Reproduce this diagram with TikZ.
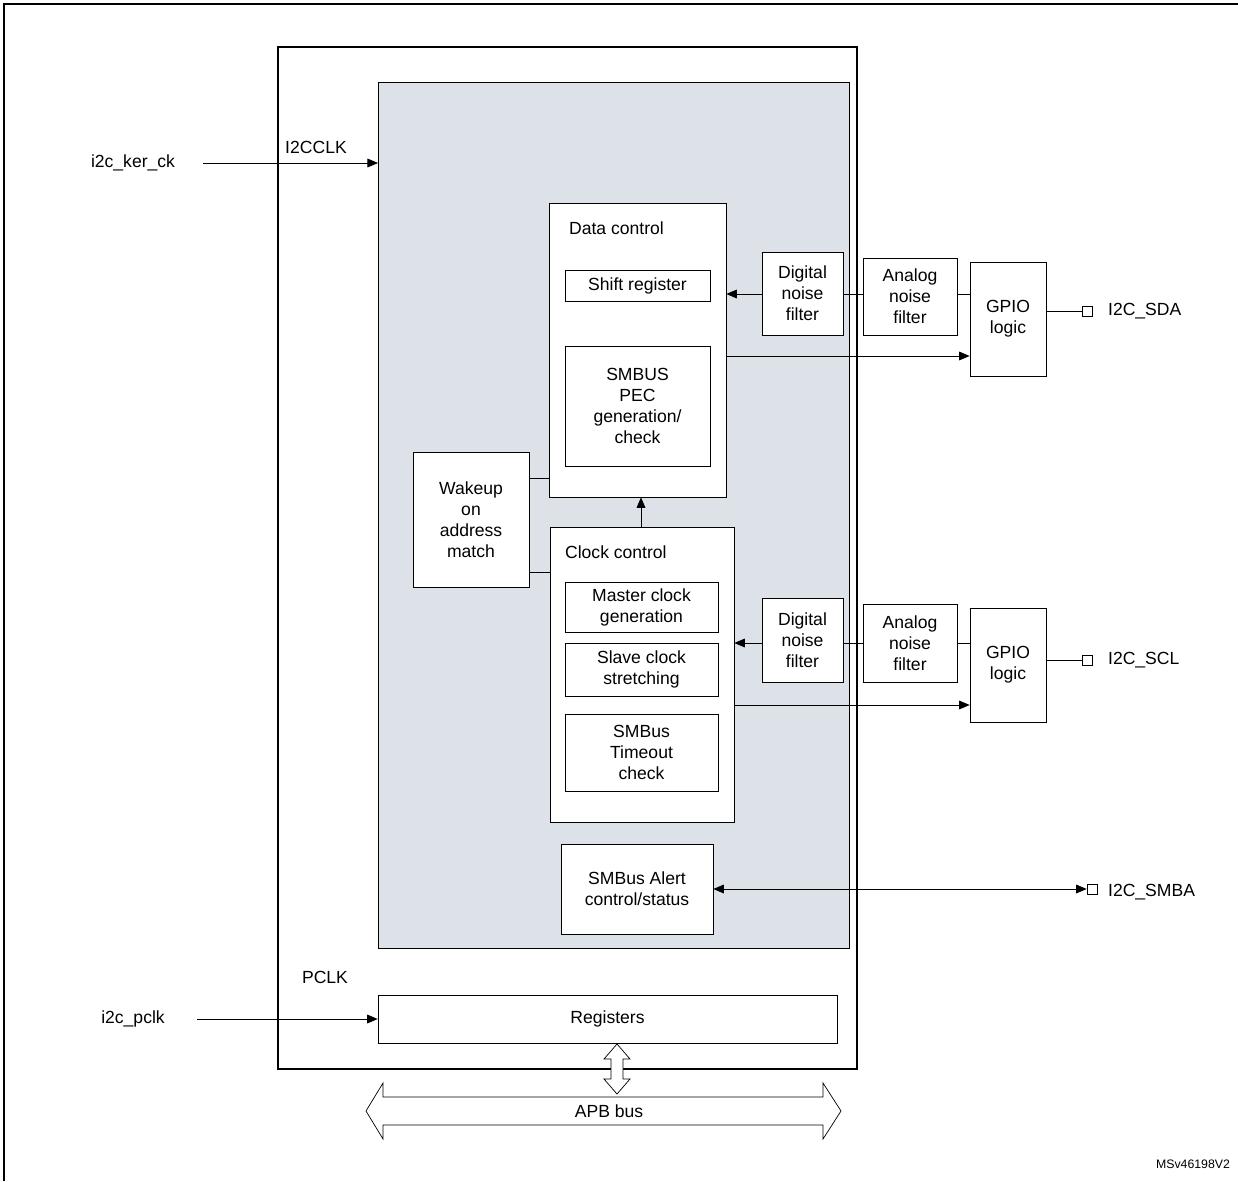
\documentclass[tikz,border=0pt]{standalone}
\usepackage{fontspec}
\setmainfont{Liberation Sans}
\usetikzlibrary{arrows.meta}
\begin{document}
\begin{tikzpicture}[x=0.02cm,y=-0.02cm,
    font=\fontsize{10}{12}\selectfont,
    blk/.style={draw, thin, fill=white, align=center, inner sep=0pt},
    pin/.style={draw, thin, fill=white, minimum size=0.2cm, inner sep=0pt},
    sig/.style={-{Triangle[length=6pt,width=5pt]}, thin},
    lbl/.style={inner sep=1pt}]
        \useasboundingbox (0,0) rectangle (1238,1181);
        \draw[line width=1pt] (4,1181) -- (4,4) -- (1238,4);
        \draw[line width=1.3pt] (278,47) rectangle (857,1069);
        \draw[thin, fill={rgb,255:red,221;green,225;blue,232}] (378,82) rectangle (849,948);

        \node[blk, minimum width=3.54cm, minimum height=5.88cm] (datactl) at (637.5,350) {};
        \node[lbl, anchor=west] (datatitle) at (567,228) {Data control};
        \node[blk, minimum width=2.9cm, minimum height=0.62cm] (shift) at (637.5,285.5) {Shift register};
        \node[blk, minimum width=2.9cm, minimum height=2.4cm] (pec) at (637.5,406) {SMBUS\\PEC\\generation/\\check};
        \node[blk, minimum width=1.62cm, minimum height=1.66cm] (dig1) at (802.5,293.5) {Digital\\noise\\filter};
        \node[blk, minimum width=1.88cm, minimum height=1.54cm] (ana1) at (910,296.5) {Analog\\noise\\filter};
        \node[blk, minimum width=1.52cm, minimum height=2.28cm] (gpio1) at (1008,319) {GPIO\\logic};
        \node[pin] (sda) at (1087,311) {};
        \node[lbl, anchor=west] (sdalbl) at (1106,311) {I2C\_SDA};

        \node[blk, minimum width=2.32cm, minimum height=2.7cm] (wakeup) at (471,519.5) {Wakeup\\on\\address\\match};

        \node[blk, minimum width=3.68cm, minimum height=5.9cm] (clkctl) at (642,674.5) {};
        \node[lbl, anchor=west] (clktitle) at (563,552) {Clock control};
        \node[blk, minimum width=3.06cm, minimum height=1.0cm] (master) at (641.5,607) {Master clock\\generation};
        \node[blk, minimum width=3.06cm, minimum height=1.06cm] (slave) at (641.5,669.5) {Slave clock\\stretching};
        \node[blk, minimum width=3.06cm, minimum height=1.54cm] (timeout) at (641.5,752.5) {SMBus\\Timeout\\check};
        \node[blk, minimum width=1.62cm, minimum height=1.68cm] (dig2) at (802.5,640) {Digital\\noise\\filter};
        \node[blk, minimum width=1.88cm, minimum height=1.56cm] (ana2) at (910,643) {Analog\\noise\\filter};
        \node[blk, minimum width=1.52cm, minimum height=2.28cm] (gpio2) at (1008,665) {GPIO\\logic};
        \node[pin] (scl) at (1087,660) {};
        \node[lbl, anchor=west] (scllbl) at (1106,660) {I2C\_SCL};

        \node[blk, minimum width=3.04cm, minimum height=1.8cm] (alert) at (637,889) {SMBus Alert\\control/status};
        \node[pin] (smba) at (1092,889) {};
        \node[lbl, anchor=west] (smbalbl) at (1106,892) {I2C\_SMBA};

        \node[blk, minimum width=9.18cm, minimum height=0.96cm] (regs) at (607.5,1019) {Registers};

        \node[lbl] (kerck) at (133,163) {i2c\_ker\_ck};
        \node[lbl] (i2cclk) at (316,147) {I2CCLK};
        \node[lbl] (pclkin) at (133,1019) {i2c\_pclk};
        \node[lbl] (pclk) at (325,977) {PCLK};
        \node[lbl, font=\fontsize{7}{8}\selectfont] (ref) at (1193,1164) {MSv46198V2};

        \draw[sig] (203,163) -- (378,163);
        \draw[sig] (197,1019) -- (regs.west);

        \draw[sig] (dig1.west |- 0,294) -- (datactl.east |- 0,294);
        \draw (ana1.west |- 0,294) -- (dig1.east |- 0,294);
        \draw (gpio1.west |- 0,294) -- (ana1.east |- 0,294);
        \draw[sig] (datactl.east |- 0,356) -- (gpio1.west |- 0,356);
        \draw (gpio1.east |- sda) -- (sda.west);

        \draw[sig] (dig2.west |- 0,643) -- (clkctl.east |- 0,643);
        \draw (ana2.west |- 0,643) -- (dig2.east |- 0,643);
        \draw (gpio2.west |- 0,643) -- (ana2.east |- 0,643);
        \draw[sig] (clkctl.east |- 0,705) -- (gpio2.west |- 0,705);
        \draw (gpio2.east |- scl) -- (scl.west);

        \draw (wakeup.east |- 0,478) -- (datactl.west |- 0,478);
        \draw (wakeup.east |- 0,572) -- (clkctl.west |- 0,572);
        \draw[sig] (clkctl.north -| 641,0) -- (datactl.south -| 641,0);
        \draw[{Triangle[length=6pt,width=5pt]}-{Triangle[length=6pt,width=5pt]}, thin] (alert.east) -- (smba.west);

        % hollow bus arrows
        \draw[thin, fill=white] (617,1044) -- (630,1059) -- (623,1059) -- (623,1079) -- (630,1079)
            -- (617,1094) -- (604,1079) -- (611,1079) -- (611,1059) -- (604,1059) -- cycle;
        \draw[thin, fill=white] (366,1111) -- (383,1083) -- (383,1097) -- (823,1097) -- (823,1083)
            -- (841,1111) -- (823,1139) -- (823,1125) -- (383,1125) -- (383,1139) -- cycle;
        \node[lbl] (apb) at (609,1111) {APB bus};
    \end{tikzpicture}
\end{document}
